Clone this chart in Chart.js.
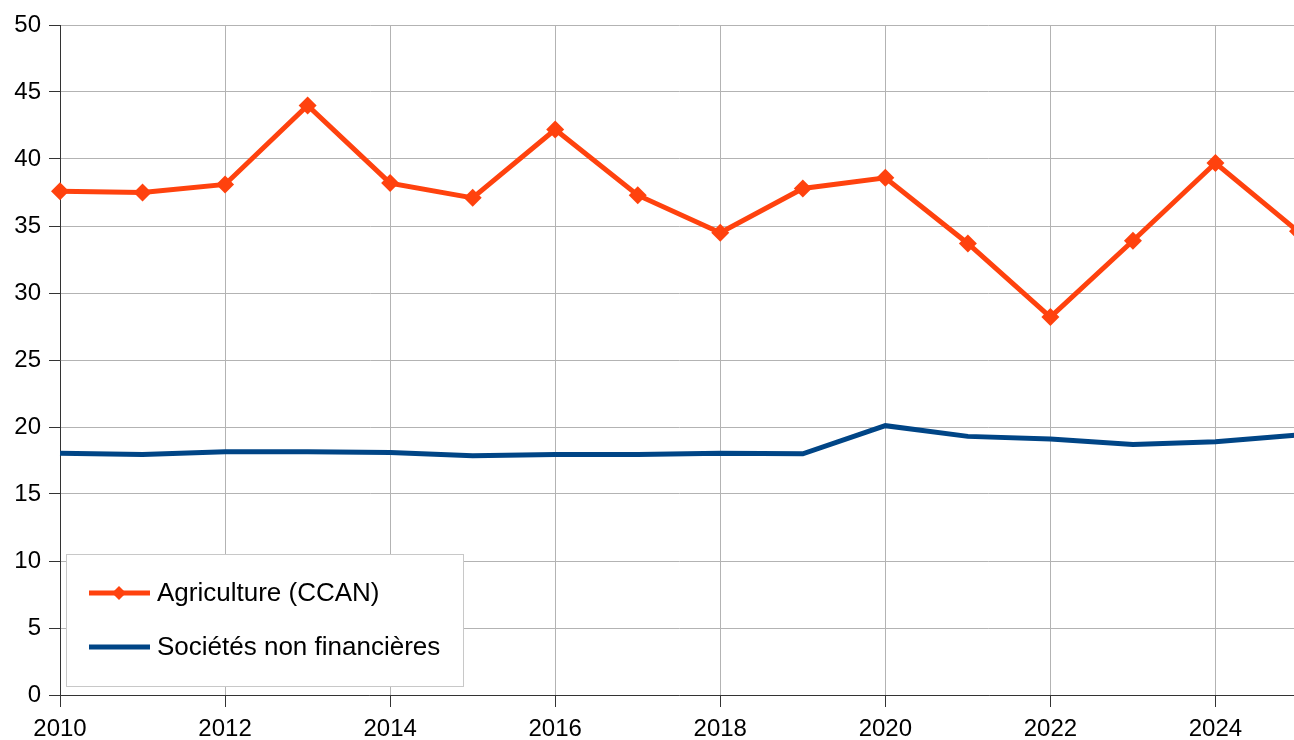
<!DOCTYPE html>
<html>
<head>
<meta charset="utf-8">
<script src="https://cdn.jsdelivr.net/npm/chart.js@4/dist/chart.umd.min.js"></script>
<style>
  html, body { margin: 0; padding: 0; background: #fff; overflow: hidden; }
  #wrap { width: 1294px; height: 740px; overflow: hidden; position: relative; }
  #box { width: 1307px; height: 740px; position: absolute; left: 0; top: 0; }
</style>
</head>
<body>
<div id="wrap"><div id="box"><canvas id="chart"></canvas></div></div>
<script>
// data
var years = [2010, 2011, 2012, 2013, 2014, 2015, 2016, 2017, 2018, 2019, 2020, 2021, 2022, 2023, 2024, 2025];
var agriculture = [37.6, 37.5, 38.1, 44.0, 38.2, 37.1, 42.2, 37.3, 34.5, 37.8, 38.6, 33.7, 28.2, 33.9, 39.7, 34.6];
var societes = [18.05, 17.95, 18.15, 18.15, 18.1, 17.85, 17.95, 17.95, 18.05, 18.0, 20.1, 19.3, 19.1, 18.7, 18.9, 19.4];
var xTicks = [2010, 2012, 2014, 2016, 2018, 2020, 2022, 2024];
var seriesNames = ['Agriculture (CCAN)', 'Sociétés non financières'];

var FONT = '"Liberation Sans", Arial, sans-serif';
var ORANGE = '#ff420e';
var BLUE = '#004586';

function toPoints(vals) {
    return vals.map(function (v, i) { return {x: years[i], y: v}; });
}

// legend drawn inside the plot, lower left, like the original
var boxLegend = {
    id: 'boxLegend',
    afterDatasetsDraw: function (chart) {
        var ctx = chart.ctx;
        var a = chart.chartArea;
        var x0 = a.left + 6, y0 = a.bottom - 141, w = 397, h = 132;
        ctx.save();
        ctx.fillStyle = '#fff';
        ctx.fillRect(x0, y0, w, h);
        ctx.strokeStyle = '#c8c8c8';
        ctx.lineWidth = 1;
        ctx.strokeRect(x0 + 0.5, y0 + 0.5, w, h);
        chart.data.datasets.forEach(function (ds, i) {
            var cy = y0 + 39 + i * 54;
            ctx.strokeStyle = ds.borderColor;
            ctx.lineWidth = 5;
            ctx.beginPath();
            ctx.moveTo(x0 + 23, cy);
            ctx.lineTo(x0 + 84, cy);
            ctx.stroke();
            if (ds.pointRadius > 0) {
                var r = 7, mx = x0 + 53;
                ctx.fillStyle = ds.borderColor;
                ctx.beginPath();
                ctx.moveTo(mx, cy - r);
                ctx.lineTo(mx + r, cy);
                ctx.lineTo(mx, cy + r);
                ctx.lineTo(mx - r, cy);
                ctx.closePath();
                ctx.fill();
            }
            ctx.fillStyle = '#000';
            ctx.font = '26px ' + FONT;
            ctx.textBaseline = 'middle';
            ctx.fillText(ds.label, x0 + 91, cy + 1);
        });
        ctx.restore();
    }
};

var ctx = document.getElementById('chart').getContext('2d');
new Chart(ctx, {
    type: 'line',
    data: {
        datasets: [{
            label: seriesNames[0],
            data: toPoints(agriculture),
            borderColor: ORANGE,
            backgroundColor: ORANGE,
            borderWidth: 5,
            pointStyle: 'rectRot',
            pointRadius: 9,
            pointBorderWidth: 0,
            pointBackgroundColor: ORANGE,
            tension: 0,
            clip: false
        }, {
            label: seriesNames[1],
            data: toPoints(societes),
            borderColor: BLUE,
            backgroundColor: BLUE,
            borderWidth: 5,
            pointRadius: 0,
            tension: 0,
            clip: false
        }]
    },
    options: {
        responsive: true,
        maintainAspectRatio: false,
        animation: false,
        layout: {padding: {top: 25, right: 0, left: 0, bottom: 0}},
        plugins: {legend: {display: false}, tooltip: {enabled: false}},
        scales: {
            x: {
                type: 'linear',
                min: 2010,
                max: 2025,
                afterBuildTicks: function (scale) {
                    scale.ticks = xTicks.map(function (v) { return {value: v}; });
                },
                afterFit: function (scale) { scale.height = 45; },
                ticks: {
                    color: '#000',
                    font: {family: FONT, size: 24},
                    padding: 8,
                    maxRotation: 0,
                    autoSkip: false,
                    callback: function (v) { return String(v); }
                },
                grid: {color: '#b3b3b3', lineWidth: 1, tickColor: '#333', tickLength: 12},
                border: {color: '#333', width: 1}
            },
            y: {
                min: 0,
                max: 50,
                ticks: {
                    stepSize: 5,
                    color: '#000',
                    font: {family: FONT, size: 24},
                    padding: 8
                },
                afterFit: function (scale) { scale.width = 60; },
                grid: {color: '#b3b3b3', lineWidth: 1, tickColor: '#333', tickLength: 11},
                border: {color: '#333', width: 1}
            }
        }
    },
    plugins: [boxLegend]
});
</script>
</body>
</html>
